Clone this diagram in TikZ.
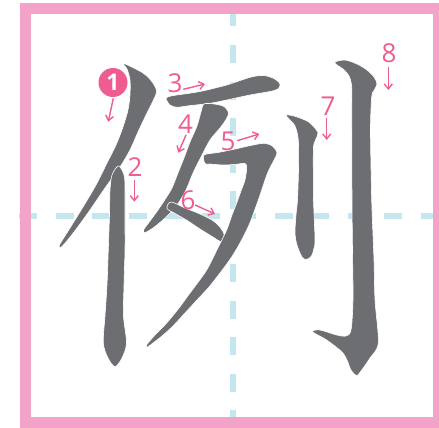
\documentclass[tikz,border=0pt]{standalone}
\usepackage{fontspec}
\usepackage{tikz}
\usetikzlibrary{arrows.meta}
\newfontfamily\numfont{Open Sans}

\definecolor{framepink}{HTML}{F4A3C8}
\definecolor{guideblue}{HTML}{C4E7EF}
\definecolor{inkgray}{HTML}{6D6E72}
\definecolor{numpink}{HTML}{EE5C91}

\begin{document}
\begin{tikzpicture}[x=1pt, y=-1pt,
    guide/.style={guideblue, line width=6.5pt, dash pattern=on 18pt off 18.5pt},
    inkstroke/.style={fill=inkgray, draw=white, line width=0.6pt},
    stepnum/.style={numpink, inner sep=0pt, font=\numfont\fontsize{26}{26}\selectfont},
    steparrow/.style={numpink, line width=1.4pt, -{Straight Barb[length=5pt,width=8pt]}}]

    \useasboundingbox (0,0) rectangle (439,428);
    \clip (0,0) rectangle (439,428);

    % grid
    \draw[guide] (233,8.5) -- (233,417);
    \draw[guide] (19,216) -- (433,216);
    \draw[framepink, line width=11pt] (25.5,8.5) rectangle (438.5,422.5);

    % strokes 1 and 2
    \filldraw[inkstroke] plot[smooth cycle, tension=0.5] coordinates {
      (123.3,63.3) (143,73) (153,83) (156.5,92) (152,103) (146.5,114)
      (138,132) (130,150) (120,167) (105,188) (90,210) (74,232) (62,246.5)
      (59.5,245) (70,228) (83,207) (96,185) (107,163) (116,145) (123,127)
      (128,110) (130,95) (130,80) (127,69)};
    \filldraw[inkstroke] plot[smooth cycle, tension=0.5] coordinates {
      (118,166) (122,170) (124.5,177) (125,190) (125,220) (125,250)
      (124,285) (123.5,316) (126.5,343) (122,358) (115,366.7) (108,358)
      (103.3,343) (105,316) (107,285) (108.3,250) (109.5,215) (110,190)
      (112,175)};

    % strokes 3 to 6
    \filldraw[inkstroke] plot[smooth cycle, tension=0.5] coordinates {
      (166,98.3) (171,96) (177,95) (200,91.5) (226.7,85) (250,77.3)
      (263.3,75.5) (274,78.5) (280,84) (278,89) (270,91.5) (250,95)
      (226.7,100) (210,103.3) (187,106) (177,107.3) (170,105)};
    \filldraw[inkstroke] plot[smooth cycle, tension=0.5] coordinates {
      (204,104) (214,104) (224,106.5) (228.5,113) (226,119.5) (220,128)
      (210,140) (201,157) (193,173) (186,190) (177,205) (165,218)
      (153,228) (145,232.5) (143.5,230) (150,221) (158,210) (166,198)
      (172,188) (178,173) (184,158) (190,142) (197,126) (201,112)};
    \filldraw[inkstroke] plot[smooth cycle, tension=0.5] coordinates {
      (171,202) (185,208) (200,214) (212,220) (219,226) (224,234)
      (222,242) (213,237) (200,229) (188,221) (176,214) (167,208.5)};
    \filldraw[inkstroke] plot[smooth cycle, tension=0.5] coordinates {
      (204,155) (218,152.5) (233,149.5) (253,145) (265,143.3) (273,146.5)
      (277,153) (274,160) (268,172) (263,186) (259,198) (254,212)
      (249,225) (240,243) (231,258) (220,273) (209,287) (197,300)
      (185,313) (173,326) (162,336) (153,343) (147.5,347) (146.5,345)
      (155,335) (166.7,323) (179,308) (190,293) (199,281) (206.7,270)
      (213,258) (218.3,247) (226.7,230) (232,215) (236.7,203) (241,191)
      (245,180) (246.7,168) (245,163.5) (234,164.5) (223,165) (210,164)
      (205,163.5)};

    % strokes 7 and 8
    \filldraw[inkstroke] plot[smooth cycle, tension=0.5] coordinates {
      (286,115) (292,115.5) (300,118) (308,121.5) (313.5,126.5) (318,133)
      (315.5,140) (313.5,147) (313.3,170) (313.5,200) (315,240) (313.5,250)
      (311.5,256) (306.7,259.5) (302,257) (297,245) (295,233) (296,215)
      (297.5,200) (298.5,170) (298.3,140) (295,126) (289,119)};
    \filldraw[inkstroke] plot[smooth cycle, tension=0.5] coordinates {
      (335,62) (345,60) (357,64) (367,70) (374,77) (377,84) (374,90.5)
      (371.7,97) (370.5,130) (371.7,200) (374,260) (375,300) (378.3,343)
      (370,358) (361.7,370) (356.7,375.5) (351,370) (347,360) (341.7,351.7)
      (326.7,340) (315,333.5) (312.5,331) (320,330) (336.7,335) (346,336)
      (351,330) (353,300) (352.5,250) (352,200) (351.7,113) (351.7,87)
      (349,76) (343,69) (337,65)};

    % stroke numbers
    \node[circle, fill=numpink, minimum size=29pt, inner sep=0pt,
      text=white, font=\numfont\bfseries\fontsize{23}{23}\selectfont]
      (n1) at (113,82.5) {1};
    \foreach \k/\x/\y in {2/135/167.5, 3/175/83, 4/185.5/124, 5/228/141.5,
      6/188/200, 7/328/106, 8/389/53}
      \node[stepnum] (n\k) at (\x,\y) {\k};

    \coordinate (a1s) at (113.3,98.3);  \coordinate (a1e) at (108.3,121.7);
    \coordinate (a2s) at (134.3,180);   \coordinate (a2e) at (134.3,201.7);
    \coordinate (a3s) at (183.3,89.3);  \coordinate (a3e) at (205,84);
    \coordinate (a4s) at (186,135);     \coordinate (a4e) at (178.3,152.7);
    \coordinate (a5s) at (237.3,140.7); \coordinate (a5e) at (259.3,134);
    \coordinate (a6s) at (195,205);     \coordinate (a6e) at (215,214);
    \coordinate (a7s) at (326.7,118.3); \coordinate (a7e) at (326.7,140);
    \coordinate (a8s) at (388.3,66.7);  \coordinate (a8e) at (388.3,90);
    \foreach \k in {1,...,8}
      \draw[steparrow] (a\k s) -- (a\k e);

\end{tikzpicture}
\end{document}
